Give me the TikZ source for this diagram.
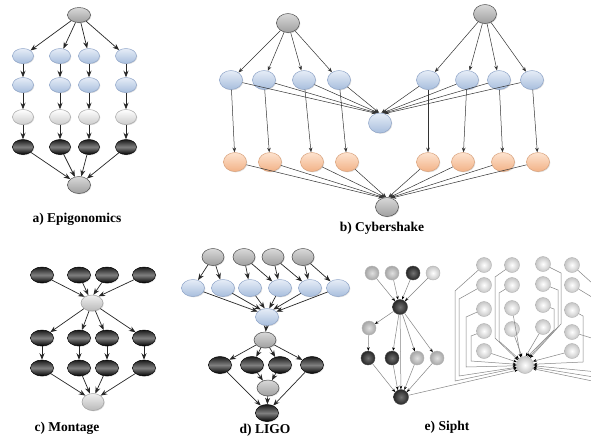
\documentclass[tikz,border=0pt]{standalone}
\usepackage{fontspec}
\setmainfont{Liberation Serif}
\usetikzlibrary{shapes.geometric,arrows.meta,shadows}

\definecolor{bluetop}{HTML}{E6EDF7}
\definecolor{bluebot}{HTML}{A8BEDD}
\definecolor{blueline}{HTML}{8EA4C8}
\definecolor{orgtop}{HTML}{FDE3CF}
\definecolor{orgbot}{HTML}{F2B287}
\definecolor{orgline}{HTML}{D9A27C}
\definecolor{siphtline}{HTML}{858585}

\begin{document}
\begin{tikzpicture}[x=1pt,y=-1pt,
  job/.style={ellipse, inner sep=0pt, line width=0.5pt,
    minimum width=22pt, minimum height=16pt,
    drop shadow={opacity=0.25, shadow xshift=0.8pt, shadow yshift=-0.8pt}},
  bluejob/.style={job, draw=blueline, top color=bluetop, bottom color=bluebot},
  orangejob/.style={job, draw=orgline, top color=orgtop, bottom color=orgbot},
  grayjob/.style={job, draw=gray!60!black, top color=gray!30, bottom color=gray!75},
  mgrayjob/.style={job, draw=gray!75, top color=gray!12, bottom color=gray!55},
  lgrayjob/.style={job, draw=gray!70, top color=white, bottom color=gray!40},
  blackjob/.style={job, draw=black, top color=black!90, bottom color=black, middle color=black!50},
  sjob/.style={circle, inner sep=0pt, minimum size=14pt, draw=gray!60, line width=0.4pt},
  smid/.style={sjob, inner color=gray!25, outer color=gray!70},
  sdark/.style={sjob, draw=black!70, inner color=black!55, outer color=black!85},
  slight/.style={sjob, inner color=white, outer color=gray!45},
  arr/.style={-{Stealth[length=6.5pt,width=5pt]}, line width=0.7pt, black!85},
  tarr/.style={-{Stealth[length=4.6pt,width=3.6pt]}, line width=0.5pt, black!80},
  sarr/.style={-{Stealth[length=3.6pt,width=2.8pt,black]}, line width=0.5pt, siphtline},
  lab/.style={font=\bfseries\fontsize{13.5}{15}\selectfont}]

\useasboundingbox (0,0) rectangle (591,440);
\fill[white] (0,0) rectangle (591,440);
\clip (0,0) rectangle (591,440);

% ---------------- a) Epigonomics ----------------
\node[grayjob, minimum width=23pt, minimum height=15pt] (a0) at (79,15) {};
\foreach \i/\x in {1/23,2/60,3/89,4/126} {
  \node[bluejob, minimum width=21pt, minimum height=15pt] (a1\i) at (\x,56) {};
  \node[bluejob, minimum width=21pt, minimum height=15pt] (a2\i) at (\x,85) {};
  \node[lgrayjob, minimum width=21pt, minimum height=15pt] (a3\i) at (\x,117) {};
  \node[blackjob, minimum width=21pt, minimum height=15pt] (a4\i) at (\x,147) {};
}
\node[grayjob, minimum width=23pt, minimum height=17pt] (a5) at (79,185) {};
\foreach \i in {1,...,4} {
  \draw[arr] (a0) -- (a1\i);
  \draw[arr] (a1\i) -- (a2\i);
  \draw[arr] (a2\i) -- (a3\i);
  \draw[arr] (a3\i) -- (a4\i);
  \draw[arr] (a4\i) -- (a5);
}
\node[lab] (alab) at (77,219) {a) Epigonomics};

% ---------------- b) Cybershake ----------------
\node[grayjob, minimum width=23pt, minimum height=19pt] (bL) at (288,23) {};
\node[grayjob, minimum width=23pt, minimum height=19pt] (bR) at (485,14) {};
\foreach \i/\x in {1/231,2/264,3/304,4/339,5/428,6/467,7/499,8/532}
  \node[bluejob, minimum width=23pt, minimum height=19pt] (b\i) at (\x,80) {};
\foreach \i/\x in {1/235,2/270,3/312,4/347,5/428,6/463,7/503,8/538}
  \node[orangejob, minimum width=23pt, minimum height=19pt] (o\i) at (\x,162) {};
\node[bluejob, minimum width=23pt, minimum height=20pt] (bC) at (380,123) {};
\node[grayjob, minimum width=23pt, minimum height=19pt] (bB) at (387,207) {};
\foreach \i in {1,...,4} \draw[tarr] (bL) -- (b\i);
\foreach \i in {5,...,8} \draw[tarr] (bR) -- (b\i);
\foreach \i/\a in {1/112,2/106,3/100,4/95,5/82,6/76,7/70,8/64}
  \draw[tarr] (b\i) -- (bC.\a);
\foreach \i in {1,...,8} \draw[tarr] (b\i) -- (o\i);
\foreach \i/\a in {1/115,2/108,3/101,4/95,5/82,6/76,7/70,8/63}
  \draw[tarr] (o\i) -- (bB.\a);
\node[lab] (blab) at (382,228) {b) Cybershake};

% ---------------- c) Montage ----------------
\foreach \i/\x in {1/42,2/79,3/107,4/144} {
  \node[blackjob, minimum width=23pt, minimum height=16pt] (mt\i) at (\x,275) {};
  \node[blackjob, minimum width=23pt, minimum height=16pt] (mr\i) at (\x,338) {};
  \node[blackjob, minimum width=23pt, minimum height=16pt] (ms\i) at (\x,368) {};
}
\node[mgrayjob, minimum width=22pt, minimum height=16pt] (mM) at (92,303) {};
\node[mgrayjob, minimum width=22pt, minimum height=17pt] (mB) at (93,402) {};
\foreach \i/\a in {1/140,2/115,3/80,4/45} {
  \draw[arr] (mt\i) -- (mM.\a);
  \draw[arr] (mM) -- (mr\i);
  \draw[arr] (mr\i) -- (ms\i);
}
\foreach \i/\a in {1/140,2/110,3/75,4/40}
  \draw[arr] (ms\i) -- (mB.\a);
\node[lab] (clab) at (67,428) {c) Montage};

% ---------------- d) LIGO ----------------
\foreach \i/\x in {1/213,2/244,3/273,4/303}
  \node[grayjob, minimum width=22pt, minimum height=17pt] (dt\i) at (\x,257) {};
\foreach \i/\x in {1/193,2/223,3/250,4/280,5/310,6/338}
  \node[bluejob, minimum width=23pt, minimum height=17pt] (du\i) at (\x,288) {};
\node[bluejob, minimum width=23pt, minimum height=17pt] (dC) at (267,317) {};
\node[grayjob, minimum width=22pt, minimum height=16pt] (dG) at (265,340) {};
\foreach \i/\x in {1/220,2/252,3/280,4/312}
  \node[blackjob, minimum width=23pt, minimum height=17pt] (dk\i) at (\x,365) {};
\node[grayjob, minimum width=22pt, minimum height=16pt] (dG2) at (268,388) {};
\node[blackjob, minimum width=23pt, minimum height=17pt] (dB) at (267,413) {};
\foreach \s/\t in {1/1,1/2,2/3,2/4,3/4,3/5,4/5,4/6}
  \draw[arr] (dt\s) -- (du\t);
\foreach \i/\a in {1/150,2/130,3/105,4/75,5/50,6/30}
  \draw[arr] (du\i) -- (dC.\a);
\draw[arr] (dC) -- (dG);
\foreach \i in {1,...,4} \draw[arr] (dG) -- (dk\i);
\draw[arr] (dk2) -- (dG2);
\draw[arr] (dk3) -- (dG2);
\draw[arr] (dk1) -- (dB.130);
\draw[arr] (dG2) -- (dB);
\draw[arr] (dk4) -- (dB.50);
\node[lab] (dlab) at (265,430) {d) LIGO};

% ---------------- e) Sipht ----------------
\node[smid]   (st1) at (372,273) {};
\node[smid]   (st2) at (392,273) {};
\node[sdark]  (st3) at (413,273) {};
\node[slight] (st4) at (433,273) {};
\node[sdark, minimum size=15pt] (sH) at (400,307) {};
\node[smid]   (sL) at (369,328) {};
\node[sdark]  (sr1) at (368,358) {};
\node[sdark]  (sr2) at (392,358) {};
\node[smid]   (sr3) at (417,358) {};
\node[smid]   (sr4) at (437,358) {};
\node[sdark, minimum size=15pt] (sB) at (401,397) {};
\foreach \i/\a in {1/130,2/105,3/75,4/50} \draw[sarr] (st\i) -- (sH.\a);
\draw[sarr] (sH) -- (sL);
\draw[sarr] (sL) -- (sr1);
\foreach \i in {2,3,4} \draw[sarr] (sH) -- (sr\i);
\draw[sarr] (sH) -- (sB);
\foreach \i/\a in {1/140,2/115,3/65,4/40} \draw[sarr] (sr\i) -- (sB.\a);

% right-hand fan-in
\node[slight, minimum size=17pt] (rH) at (525,365) {};
\foreach \i/\y in {1/265,2/285,3/309,4/331,5/351} \node[slight, minimum size=15pt] (c1\i) at (484,\y) {};
\foreach \i/\y in {1/265,2/285,3/308,4/329} \node[slight, minimum size=15pt] (c2\i) at (512,\y) {};
\foreach \i/\y in {1/264,2/284,3/305,4/327} \node[slight, minimum size=15pt] (c3\i) at (543,\y) {};
\foreach \i/\y in {1/265,2/285,3/310,4/332,5/351} \node[slight, minimum size=15pt] (c4\i) at (572,\y) {};

\draw[sarr] (c11) -- (455,291) -- (455,381) -- (rH.200);
\draw[sarr] (c12) -- (459,299) -- (459,376) -- (rH.195);
\draw[sarr] (c13) -- (466,317) -- (466,367) -- (rH.185);
\draw[sarr] (c14) -- (471,336) -- (471,361) -- (rH.175);
\draw[sarr] (c15) -- (rH.160);
\draw[sarr] (c21) -- (495,277) -- (495,338) -- (rH.145);
\draw[sarr] (c22) -- (499,293) -- (499,341) -- (rH.135);
\draw[sarr] (c23) -- (rH.120);
\draw[sarr] (c24) -- (rH.110);
\draw[sarr] (c31) -- (561,273) -- (561,324) -- (rH.55);
\draw[sarr] (c32) -- (558,290) -- (558,327) -- (rH.65);
\draw[sarr] (c33) -- (554,309) -- (554,330) -- (rH.75);
\draw[sarr] (c34) -- (rH.85);
\draw[sarr] (c41) -- (602,292) -- (602,383) -- (rH.-25);
\draw[sarr] (c42) -- (600,302) -- (600,378) -- (rH.-15);
\draw[sarr] (c43) -- (583,316) -- (583,362) -- (rH.5);
\draw[sarr] (c44) -- (598,340) -- (598,372) -- (rH.-5);
\draw[sarr] (c45) -- (rH.25);
\draw[sarr] (sB) -- (rH.215);
\node[lab] (elab) at (447,427) {e) Sipht};

\end{tikzpicture}
\end{document}
